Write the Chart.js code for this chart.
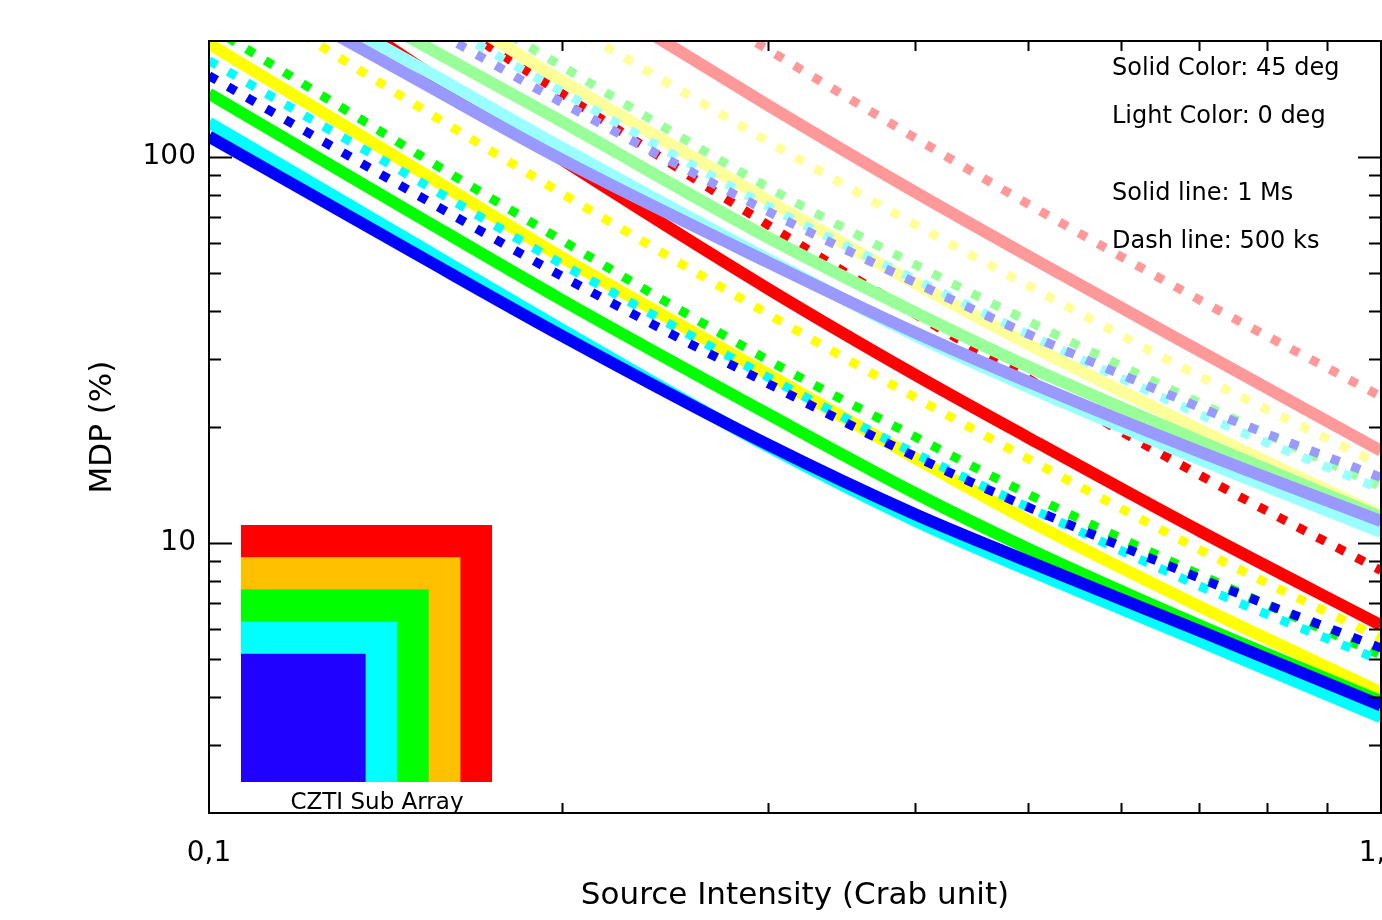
<!DOCTYPE html>
<html>
<head>
<meta charset="utf-8">
<title>CZTI sub array MDP</title>
<script src="https://cdn.jsdelivr.net/npm/chart.js@4.4.1/dist/chart.umd.min.js"></script>
<style>
  html, body { margin: 0; padding: 0; background: #fff; }
  #wrap { width: 1382px; height: 920px; }
</style>
</head>
<body>
<div id="wrap"><canvas id="mdpChart" width="1382" height="920"></canvas></div>
<script>
const intensity = [0.1, 0.15, 0.2, 0.3, 0.4, 0.5, 0.7, 1.0];

// MDP (%) per sub array. 45 = solid colour (45 deg), 0 = light colour (0 deg)
// Ms = 1 Ms exposure (solid line), ks = 500 ks exposure (dotted line)
const red45Ms    = [396.0, 174.2, 98.6, 45.6, 27.35, 18.77, 10.76, 6.13];
const red45ks    = [579.4, 257.9, 146.2, 66.7, 39.3, 26.7, 15.02, 8.50];
const yellow45Ms = [196.7, 93.5, 55.1, 27.4, 16.65, 11.45, 6.86, 4.11];
const yellow45ks = [294.8, 136.8, 80.6, 39.2, 23.9, 16.55, 9.63, 5.67];
const green45Ms  = [146.1, 70.9, 42.7, 21.6, 13.5, 9.68, 6.13, 3.90];
const green45ks  = [218.9, 102.8, 60.9, 29.8, 18.9, 13.4, 8.30, 5.13];
const cyan45Ms   = [122.9, 59.7, 35.8, 17.8, 11.45, 8.52, 5.57, 3.54];
const cyan45ks   = [177.8, 87.8, 52.9, 26.9, 17.1, 12.4, 7.75, 4.97];
const blue45Ms   = [113.1, 56.25, 34.47, 18.0, 11.9, 8.97, 5.93, 3.80];
const blue45ks   = [162.6, 80.3, 49.2, 25.9, 16.8, 12.4, 8.12, 5.35];

const red0Ms    = [1065, 497.7, 289.6, 136.3, 81.4, 55.5, 31.5, 17.36];
const red0ks    = [1396, 669.3, 396.0, 189.8, 112.4, 75.6, 42.7, 24.0];
const yellow0Ms = [580.8, 271.3, 157.8, 77.3, 47.2, 32.8, 19.7, 11.8];
const yellow0ks = [796, 382.1, 226.1, 109.8, 67.0, 46.5, 27.1, 15.97];
const green0Ms  = [401.7, 200.3, 123.7, 61.9, 39.7, 28.7, 18.4, 11.69];
const green0ks  = [605.7, 290.8, 172.1, 83.5, 52.8, 37.6, 23.1, 14.0];
const cyan0Ms   = [344.1, 173.6, 105.9, 54.4, 34.6, 25.4, 16.5, 10.7];
const cyan0ks   = [486.1, 241.5, 147.8, 74.6, 48.3, 34.8, 21.6, 13.8];
const blue0Ms   = [316.6, 159.7, 98.6, 53.4, 35.2, 26.2, 17.26, 11.4];
const blue0ks   = [457.9, 227.6, 138.5, 72.3, 47.4, 34.8, 22.5, 14.8];

// axis ticks
const xTicks = [0.1, 1];
const xTickLabels = ["0,1", "1,0"];
const xMinorTicks = [0.2, 0.3, 0.4, 0.5, 0.6, 0.7, 0.8, 0.9];
const yTicks = [10, 100];
const yTickLabels = ["10", "100"];
const yMinorTicks = [3, 4, 5, 6, 7, 8, 9, 20, 30, 40, 50, 60, 70, 80, 90];

// inset: CZTI sub arrays, largest first
const subArrayColors = ["#ff0000", "#ffc000", "#00ff00", "#00ffff", "#2000ff"];

const FONT = "DejaVu Sans";

// bottom -> top drawing order
const series = [
  ["red 45 1Ms", red45Ms, "#ff0000", false],
  ["red 45 500ks", red45ks, "#ff0000", true],
  ["red 0 1Ms", red0Ms, "#ff9999", false],
  ["red 0 500ks", red0ks, "#ff9999", true],
  ["yellow 45 1Ms", yellow45Ms, "#ffff00", false],
  ["yellow 45 500ks", yellow45ks, "#ffff00", true],
  ["yellow 0 1Ms", yellow0Ms, "#ffff99", false],
  ["yellow 0 500ks", yellow0ks, "#ffff99", true],
  ["green 45 1Ms", green45Ms, "#00ff00", false],
  ["green 45 500ks", green45ks, "#00ff00", true],
  ["green 0 1Ms", green0Ms, "#99ff99", false],
  ["green 0 500ks", green0ks, "#99ff99", true],
  ["cyan 45 1Ms", cyan45Ms, "#00ffff", false],
  ["cyan 45 500ks", cyan45ks, "#00ffff", true],
  ["cyan 0 1Ms", cyan0Ms, "#99ffff", false],
  ["cyan 0 500ks", cyan0ks, "#99ffff", true],
  ["blue 45 1Ms", blue45Ms, "#0000ff", false],
  ["blue 45 500ks", blue45ks, "#0000ff", true],
  ["blue 0 1Ms", blue0Ms, "#9999ff", false],
  ["blue 0 500ks", blue0ks, "#9999ff", true]
];

// chart.js paints dataset 0 last, so flip the list
const datasets = series.slice().reverse().map(([label, values, color, dotted]) => ({
  label: label,
  data: intensity.map((x, i) => ({ x: x, y: values[i] })),
  borderColor: color,
  backgroundColor: color,
  borderWidth: dotted ? 9 : 12,
  borderDash: dotted ? [9, 13] : [],
  borderCapStyle: "butt",
  pointRadius: 0,
  cubicInterpolationMode: "monotone",
  fill: false,
  clip: 0
}));

// frame with inward ticks, text notes and the sub array inset
const idlBox = {
  id: "idlBox",
  afterDraw(chart) {
    const { ctx, chartArea: a, scales } = chart;
    const x = scales.x, y = scales.y;
    ctx.save();

    // inset squares
    const base = { left: a.left + 32, bottom: a.bottom - 31 };
    subArrayColors.forEach((c, i) => {
      const w = 251 - i * 31.6;
      const h = 257 - i * 32.2;
      ctx.fillStyle = c;
      ctx.fillRect(base.left, base.bottom - h, w, h);
    });
    ctx.fillStyle = "#000";
    ctx.font = "23px '" + FONT + "'";
    ctx.textAlign = "center";
    ctx.textBaseline = "alphabetic";
    ctx.fillText("CZTI Sub Array", base.left + 136, base.bottom + 27);

    // frame
    ctx.strokeStyle = "#000";
    ctx.lineWidth = 2;
    ctx.strokeRect(a.left, a.top, a.right - a.left, a.bottom - a.top);

    ctx.beginPath();
    xMinorTicks.forEach(v => {
      const px = Math.round(x.getPixelForValue(v)) + 0.5;
      ctx.moveTo(px, a.bottom); ctx.lineTo(px, a.bottom - 10);
      ctx.moveTo(px, a.top); ctx.lineTo(px, a.top + 10);
    });
    yMinorTicks.forEach(v => {
      const py = Math.round(y.getPixelForValue(v)) + 0.5;
      ctx.moveTo(a.left, py); ctx.lineTo(a.left + 12, py);
      ctx.moveTo(a.right, py); ctx.lineTo(a.right - 12, py);
    });
    yTicks.forEach(v => {
      const py = Math.round(y.getPixelForValue(v)) + 0.5;
      ctx.moveTo(a.left, py); ctx.lineTo(a.left + 23, py);
      ctx.moveTo(a.right, py); ctx.lineTo(a.right - 23, py);
    });
    ctx.stroke();

    // notes
    ctx.font = "24px '" + FONT + "'";
    ctx.textAlign = "left";
    ctx.fillText("Solid Color: 45 deg", 1112, 75);
    ctx.fillText("Light Color: 0 deg", 1112, 123);
    ctx.fillText("Solid line: 1 Ms", 1112, 200);
    ctx.fillText("Dash line: 500 ks", 1112, 248);
    ctx.restore();
  }
};

new Chart(document.getElementById("mdpChart").getContext("2d"), {
  type: "line",
  data: { datasets: datasets },
  options: {
    responsive: false,
    animation: false,
    layout: { padding: { top: 41, right: 1, left: 0, bottom: 0 } },
    plugins: {
      legend: { display: false },
      tooltip: { enabled: false }
    },
    scales: {
      x: {
        type: "logarithmic",
        min: 0.1,
        max: 1,
        grid: { display: false, drawTicks: false },
        border: { display: false },
        afterBuildTicks: s => { s.ticks = xTicks.map(v => ({ value: v })); },
        afterFit: s => { s.height = 107; s.paddingLeft = 0; s.paddingRight = 0; },
        ticks: {
          autoSkip: false,
          maxRotation: 0,
          padding: 24,
          color: "#000",
          font: { family: FONT, size: 28 },
          callback: (v, i) => xTickLabels[i]
        },
        title: {
          display: true,
          text: "Source Intensity (Crab unit)",
          color: "#000",
          font: { family: FONT, size: 31 },
          padding: { top: 0, bottom: 5 }
        }
      },
      y: {
        type: "logarithmic",
        min: 2,
        max: 200,
        grid: { display: false, drawTicks: false },
        border: { display: false },
        afterBuildTicks: s => { s.ticks = yTicks.map(v => ({ value: v })); },
        afterFit: s => { s.width = 209; s.paddingTop = 0; s.paddingBottom = 0; },
        ticks: {
          autoSkip: false,
          padding: 13,
          color: "#000",
          font: { family: FONT, size: 28 },
          callback: (v, i) => yTickLabels[i]
        },
        title: {
          display: true,
          text: "MDP (%)",
          color: "#000",
          font: { family: FONT, size: 31 },
          padding: { top: 84, bottom: 0 }
        }
      }
    }
  },
  plugins: [idlBox]
});
</script>
</body>
</html>
